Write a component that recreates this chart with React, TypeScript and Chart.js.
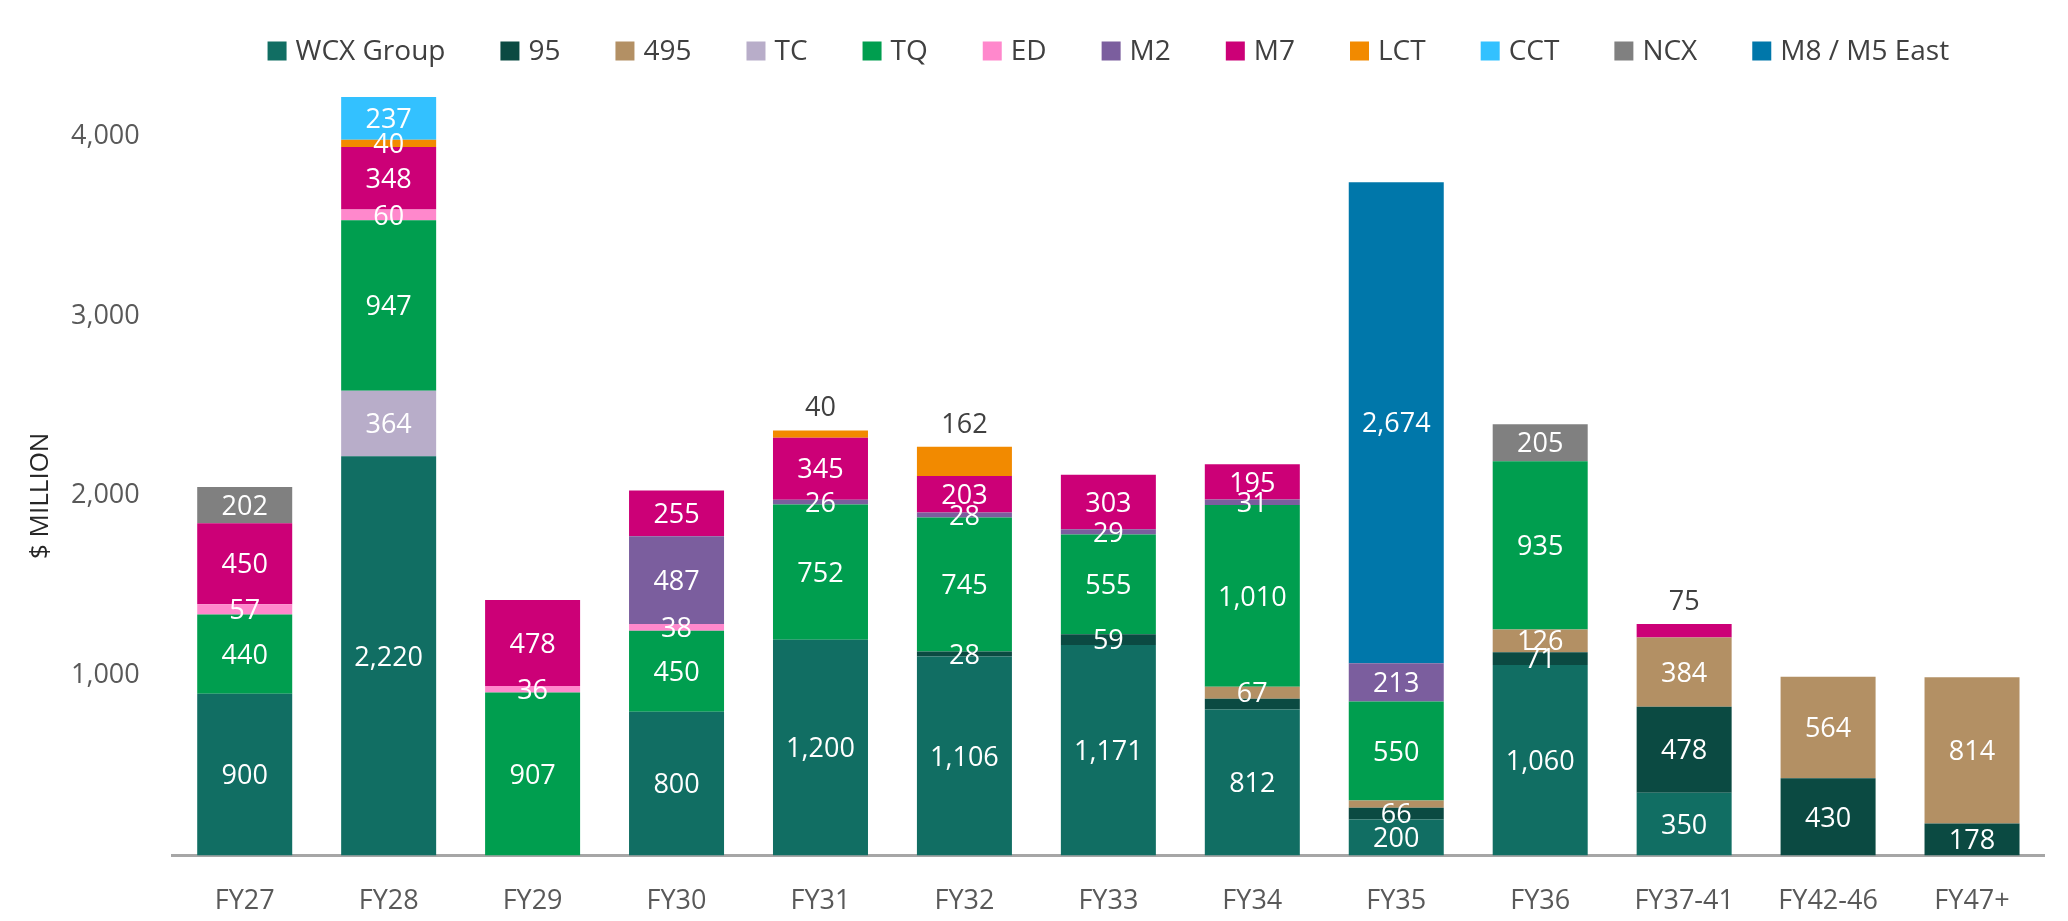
import React, { useEffect, useRef } from "react";
import { Chart, registerables } from "chart.js";
Chart.register(...registerables);

const categories = ["FY27","FY28","FY29","FY30","FY31","FY32","FY33","FY34","FY35","FY36","FY37-41","FY42-46","FY47+"];
const seriesNames = ["WCX Group","95","495","TC","TQ","ED","M2","M7","LCT","CCT","NCX","M8 / M5 East"];
const seriesColors = ["#116e63","#0b4a42","#b39064","#b8adc9","#009e4f","#ff88cc","#7b5e9e","#cc0077","#f28a00","#33c1ff","#808080","#0077aa"];
const wcx = [900,2220,0,800,1200,1106,1171,812,200,1060,350,0,0];
const s95 = [0,0,0,0,0,28,59,60,66,71,478,430,178];
const s495 = [0,0,0,0,0,0,0,67,40,126,384,564,814];
const tc = [0,364,0,0,0,0,0,0,0,0,0,0,0];
const tq = [440,947,907,450,752,745,555,1010,550,935,0,0,0];
const ed = [57,60,36,38,0,0,0,0,0,0,0,0,0];
const m2 = [0,0,0,487,26,28,29,31,213,0,0,0,0];
const m7 = [450,348,478,255,345,203,303,195,0,0,75,0,0];
const lct = [0,40,0,0,40,162,0,0,0,0,0,0,0];
const cct = [0,237,0,0,0,0,0,0,0,0,0,0,0];
const ncx = [202,0,0,0,0,0,0,0,0,205,0,0,0];
const m8 = [0,0,0,0,0,0,0,0,2674,0,0,0,0];
const seriesValues = [wcx,s95,s495,tc,tq,ed,m2,m7,lct,cct,ncx,m8];
// labels not shown in the reference: [series, category]
const hiddenLabels = [[1,7],[2,8]];
const yTicks = [1000,2000,3000,4000];

const FONT = "'Open Sans', sans-serif";

export default function App() {
  const ref = useRef<HTMLCanvasElement>(null);
  useEffect(() => {
    const labelPlugin = {
      id: "labels",
      afterDatasetsDraw(chart: any) {
        const ctx = chart.ctx;
        ctx.save();
        ctx.font = `27px ${FONT}`;
        ctx.textAlign = "center";
        ctx.textBaseline = "middle";
        for (let c = 0; c < categories.length; c++) {
          let top = -1;
          seriesValues.forEach((v, s) => { if (v[c] > 0) top = s; });
          seriesValues.forEach((v, s) => {
            if (!v[c]) return;
            if (hiddenLabels.some(([hs, hc]) => hs === s && hc === c)) return;
            const el = chart.getDatasetMeta(s).data[c];
            const txt = v[c].toLocaleString("en-US");
            if (s === top && v[c] < 170) {
              ctx.fillStyle = "#404040";
              ctx.fillText(txt, el.x, el.y - 22);
            } else {
              ctx.fillStyle = "#ffffff";
              ctx.fillText(txt, el.x, (el.y + el.base) / 2 + 2);
            }
          });
        }
        // y title
        ctx.save();
        ctx.translate(33, chart.scales.y.getPixelForValue(2000));
        ctx.rotate(-Math.PI / 2);
        ctx.fillStyle = "#262626";
        ctx.font = `26px ${FONT}`;
        ctx.fillText("$ MILLION", 0, 0);
        ctx.restore();
        // legend
        ctx.font = `28px ${FONT}`;
        const box = 19, gapBox = 9, gapItem = 55;
        const widths = seriesNames.map((n) => box + gapBox + ctx.measureText(n).width);
        const total = widths.reduce((a, b) => a + b, 0) + gapItem * (widths.length - 1);
        const ca = chart.chartArea;
        let x = (ca.left + ca.right) / 2 - total / 2;
        const y = 43;
        ctx.textAlign = "left";
        seriesNames.forEach((n, i) => {
          ctx.fillStyle = seriesColors[i];
          ctx.fillRect(x, y - box / 2, box, box);
          ctx.fillStyle = "#404040";
          ctx.fillText(n, x + box + gapBox, y + 1);
          x += widths[i] + gapItem;
        });
        ctx.restore();
      },
    };
    const chart = new Chart(ref.current!, {
      type: "bar",
      data: {
        labels: categories,
        datasets: seriesNames.map((n, i) => ({
          label: n,
          data: seriesValues[i],
          backgroundColor: seriesColors[i],
          categoryPercentage: 1,
          barPercentage: 0.66,
        })),
      },
      options: {
        animation: false,
        responsive: true,
        maintainAspectRatio: false,
        layout: { padding: { top: 74, left: 30, right: 16, bottom: 0 } },
        plugins: { legend: { display: false }, tooltip: { enabled: false } },
        scales: {
          x: {
            stacked: true,
            grid: { display: false, drawTicks: false },
            border: { color: "#a6a6a6", width: 3 },
            ticks: { color: "#595959", font: { size: 27, family: FONT }, padding: 30 },
          },
          y: {
            stacked: true,
            min: 0,
            max: 4300,
            afterBuildTicks: (s: any) => { s.ticks = yTicks.map((v) => ({ value: v })); },
            grid: { display: false, drawTicks: false },
            border: { display: false },
            ticks: {
              color: "#595959",
              font: { size: 27, family: FONT },
              padding: 33,
              callback: (v: any) => Number(v).toLocaleString("en-US"),
            },
          },
        },
      },
      plugins: [labelPlugin],
    });
    return () => chart.destroy();
  }, []);
  return (
    <div style={{ width: 2052, height: 940, position: "relative" }}>
      <canvas ref={ref} />
    </div>
  );
}
